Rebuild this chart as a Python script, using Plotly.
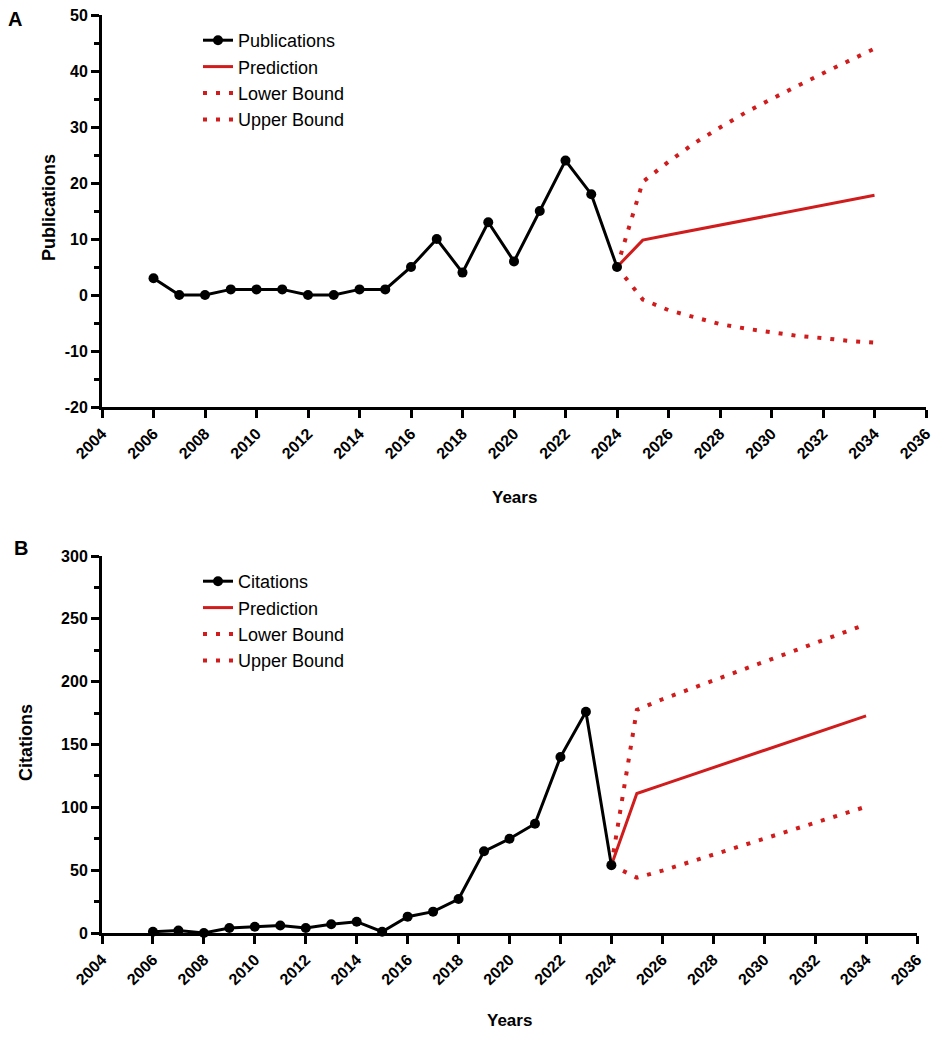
import plotly.graph_objects as go

# ---------------- data ----------------
years_obs = list(range(2006, 2025))
publications = [3, 0, 0, 1, 1, 1, 0, 0, 1, 1, 5, 10, 4, 13, 6, 15, 24, 18, 5]
citations = [1, 2, 0, 4, 5, 6, 4, 7, 9, 1, 13, 17, 27, 65, 75, 87, 140, 176, 54]

years_pred = list(range(2024, 2035))
pub_pred = [5, 9.8, 10.7, 11.6, 12.5, 13.4, 14.3, 15.2, 16.1, 17.0, 17.8]
pub_lower = [5, -0.8, -2.7, -4.0, -5.2, -6.0, -6.7, -7.3, -7.7, -8.2, -8.5]
pub_upper = [5, 20.2, 23.8, 27.1, 29.9, 32.6, 35.0, 37.4, 39.6, 41.8, 44.0]

cit_pred = [54, 111, 117.9, 124.8, 131.6, 138.5, 145.4, 152.3, 159.1, 166.0, 172.8]
cit_lower = [54, 44, 49.6, 56, 62.3, 68.7, 75, 81.4, 87.8, 94.2, 100.5]
cit_upper = [54, 177.5, 186, 193.4, 201, 208.5, 216, 223.3, 230.8, 238.2, 245.6]

x_ticks = list(range(2004, 2037, 2))
pub_yticks = list(range(-20, 51, 10))
pub_ytext = ["-20", "-10", "0", "10", "20", "30", "40", "50"]
cit_yticks = list(range(0, 301, 50))

# ---------------- style ----------------
W, H = 941, 1056
RED = "#d01c1c"
FONT = "Arial, Liberation Sans, sans-serif"
DOT = "4px,9px"

fig = go.Figure()


def add_panel(xa, ya, legend, name_obs, y_obs, pred, lower, upper):
    common = dict(xaxis=xa, yaxis=ya, legend=legend, cliponaxis=False)
    fig.add_trace(go.Scatter(x=years_pred, y=pred, name="Prediction", mode="lines",
                             line=dict(color=RED, width=3), legendrank=2, **common))
    fig.add_trace(go.Scatter(x=years_pred, y=lower, name="Lower Bound", mode="lines",
                             line=dict(color=RED, width=4, dash=DOT), legendrank=3, **common))
    fig.add_trace(go.Scatter(x=years_pred, y=upper, name="Upper Bound", mode="lines",
                             line=dict(color=RED, width=4, dash=DOT), legendrank=4, **common))
    fig.add_trace(go.Scatter(x=years_obs, y=y_obs, name=name_obs, mode="lines+markers",
                             line=dict(color="black", width=3),
                             marker=dict(color="black", size=10), legendrank=1, **common))


add_panel("x", "y", "legend", "Publications", publications, pub_pred, pub_lower, pub_upper)
add_panel("x2", "y2", "legend2", "Citations", citations, cit_pred, cit_lower, cit_upper)

axis_common = dict(showline=True, linecolor="black", linewidth=3, showgrid=False,
                   zeroline=False, ticks="outside", ticklen=8, tickwidth=3, tickcolor="black",
                   automargin=False,
                   tickfont=dict(family=FONT, size=16, color="black", weight="bold"))

xcommon = dict(axis_common, range=[2004, 2036], tickvals=x_ticks, tickangle=-45)

fig.update_layout(
    width=W, height=H,
    margin=dict(l=0, r=0, t=0, b=0, autoexpand=False),
    paper_bgcolor="white", plot_bgcolor="white",
    font=dict(family=FONT, color="black"),
    xaxis=dict(xcommon, domain=[102 / W, 926 / W], anchor="y"),
    yaxis=dict(axis_common, domain=[1 - 407 / H, 1 - 15 / H], range=[-20, 50],
               tickvals=pub_yticks, ticktext=pub_ytext, anchor="x",
               minor=dict(ticks="outside", ticklen=5, tickwidth=3, tickcolor="black", dtick=5)),
    xaxis2=dict(xcommon, domain=[102 / W, 917 / W], anchor="y2"),
    yaxis2=dict(axis_common, domain=[1 - 933 / H, 1 - 556 / H], range=[0, 300],
                tickvals=cit_yticks, anchor="x2",
                minor=dict(ticks="outside", ticklen=5, tickwidth=3, tickcolor="black", dtick=25)),
    legend=dict(x=198 / W, y=1 - 22 / H, xanchor="left", yanchor="top",
                bgcolor="rgba(0,0,0,0)", font=dict(family=FONT, size=18, color="black"),
                itemwidth=30, traceorder="normal"),
    legend2=dict(x=198 / W, y=1 - 563 / H, xanchor="left", yanchor="top",
                 bgcolor="rgba(0,0,0,0)", font=dict(family=FONT, size=18, color="black"),
                 itemwidth=30, traceorder="normal"),
    showlegend=True,
)

ann = [
    dict(text="<b>A</b>", x=15 / W, y=1 - 19 / H, font=dict(size=20)),
    dict(text="<b>B</b>", x=21 / W, y=1 - 548 / H, font=dict(size=20)),
    dict(text="<b>Publications</b>", x=49 / W, y=1 - 208 / H, textangle=-90, font=dict(size=18)),
    dict(text="<b>Citations</b>", x=26 / W, y=1 - 743 / H, textangle=-90, font=dict(size=18)),
    dict(text="<b>Years</b>", x=514 / W, y=1 - 497 / H, font=dict(size=17)),
    dict(text="<b>Years</b>", x=509 / W, y=1 - 1020 / H, font=dict(size=17)),
]
for a in ann:
    a.update(xref="paper", yref="paper", showarrow=False, xanchor="center", yanchor="middle")
    a["font"].update(family=FONT, color="black")
    fig.add_annotation(**a)

fig.write_html("out.html", config={"displayModeBar": False},
               post_script="document.body.style.margin='0';document.body.style.overflow='hidden';")
